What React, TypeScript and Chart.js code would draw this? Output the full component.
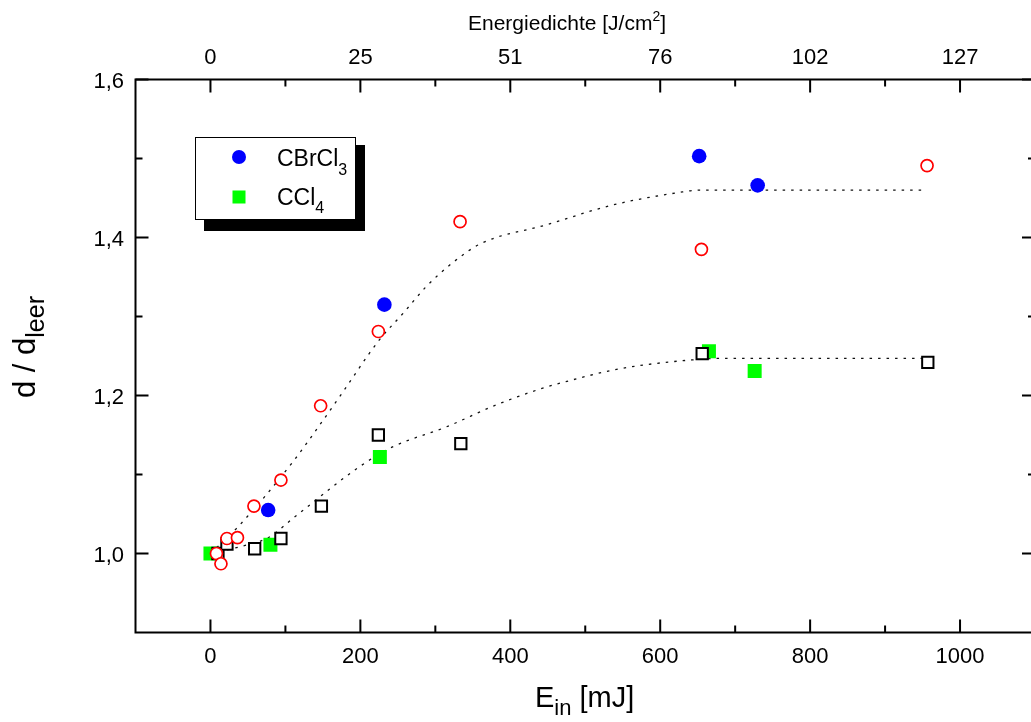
import React, { useEffect, useRef } from 'react';
import { Chart, registerables } from 'chart.js';

Chart.register(...registerables);

// Pulse energy E_in [mJ] against normalised depth d / d_leer
const CBRCL3_E = [77, 232, 652, 730];
const CBRCL3_D = [1.055, 1.315, 1.503, 1.466];

const CCL4_E = [0, 80, 226, 665, 726];
const CCL4_D = [1.0, 1.011, 1.122, 1.256, 1.231];

const OPEN_CIRCLE_E = [8, 14, 22, 36, 58, 94, 147, 224, 333, 655, 956];
const OPEN_CIRCLE_D = [1.0, 0.987, 1.019, 1.02, 1.06, 1.093, 1.187, 1.281, 1.42, 1.385, 1.491];

const OPEN_SQUARE_E = [10, 22, 59, 94, 148, 224, 334, 656, 957];
const OPEN_SQUARE_D = [1.0, 1.012, 1.006, 1.019, 1.06, 1.15, 1.139, 1.253, 1.242];

// Saturation fits (dotted guides)
const FIT_UPPER_E = [0, 37, 110, 146, 172, 225, 257, 288, 323, 360, 448, 536, 625, 652, 758, 953];
const FIT_UPPER_D = [1.0, 1.034, 1.116, 1.163, 1.198, 1.27, 1.304, 1.338, 1.368, 1.392, 1.416, 1.441, 1.457, 1.46, 1.46, 1.46];
const FIT_LOWER_E = [0, 41, 77, 112, 199, 243, 314, 381, 439, 492, 536, 581, 642, 678, 758, 953];
const FIT_LOWER_D = [1.0, 1.009, 1.02, 1.046, 1.11, 1.135, 1.16, 1.188, 1.208, 1.222, 1.232, 1.239, 1.245, 1.247, 1.247, 1.247];

// Axes
const X_MIN = -100;
const X_MAX = 1100;
const Y_MIN = 0.9;
const Y_MAX = 1.6;
const X_MAJOR = [0, 200, 400, 600, 800, 1000];
const X_MINOR = [100, 300, 500, 700, 900];
const Y_MAJOR = [1.0, 1.2, 1.4, 1.6];
const Y_MINOR = [1.1, 1.3, 1.5];
const X_LABELS = ['0', '200', '400', '600', '800', '1000'];
const TOP_LABELS = ['0', '25', '51', '76', '102', '127'];
const Y_LABELS = ['1,0', '1,2', '1,4', '1,6'];

const FONT = "'Liberation Sans', Arial, sans-serif";

const pts = (xs: number[], ys: number[]) => xs.map((x, i) => ({ x, y: ys[i] }));

type Part = { text: string; size: number; dy?: number };

function drawParts(ctx: CanvasRenderingContext2D, parts: Part[], x: number, y: number) {
  let cx = x;
  for (const p of parts) {
    ctx.font = `${p.size}px ${FONT}`;
    ctx.fillText(p.text, cx, y + (p.dy || 0));
    cx += ctx.measureText(p.text).width;
  }
}

const decorPlugin = {
  id: 'decor',
  afterDraw(chart: any) {
    const { ctx, chartArea } = chart;
    const xs = chart.scales.x;
    const ys = chart.scales.y;
    const { left, right, top, bottom } = chartArea;
    ctx.save();
    ctx.strokeStyle = '#000';
    ctx.fillStyle = '#000';
    ctx.lineWidth = 2;
    ctx.lineCap = 'butt';

    // frame
    ctx.strokeRect(left, top, right - left, bottom - top);

    // inward ticks on all four sides
    const MAJ = 13;
    const MIN = 7;
    ctx.beginPath();
    const xt = (v: number, len: number) => {
      const px = xs.getPixelForValue(v);
      ctx.moveTo(px, bottom);
      ctx.lineTo(px, bottom - len);
      ctx.moveTo(px, top);
      ctx.lineTo(px, top + len);
    };
    const yt = (v: number, len: number) => {
      const py = ys.getPixelForValue(v);
      ctx.moveTo(left, py);
      ctx.lineTo(left + len, py);
      ctx.moveTo(right, py);
      ctx.lineTo(right - len, py);
    };
    X_MAJOR.forEach((v) => xt(v, MAJ));
    X_MINOR.forEach((v) => xt(v, MIN));
    Y_MAJOR.forEach((v) => yt(v, MAJ));
    Y_MINOR.forEach((v) => yt(v, MIN));
    ctx.stroke();

    // axis titles
    ctx.textAlign = 'left';
    ctx.textBaseline = 'alphabetic';
    drawParts(ctx, [
      { text: 'E', size: 29 },
      { text: 'in', size: 22, dy: 8 },
      { text: ' [mJ]', size: 29 },
    ], 535, 707);

    drawParts(ctx, [
      { text: 'Energiedichte [J/cm', size: 21 },
      { text: '2', size: 14, dy: -9 },
      { text: ']', size: 21 },
    ], 468, 30);

    ctx.save();
    ctx.translate(35, 398);
    ctx.rotate(-Math.PI / 2);
    drawParts(ctx, [
      { text: 'd / d', size: 31 },
      { text: 'leer', size: 25, dy: 9 },
    ], 0, 0);
    ctx.restore();

    // legend box with drop shadow
    ctx.fillStyle = '#000';
    ctx.fillRect(204, 145, 161, 86);
    ctx.fillStyle = '#fff';
    ctx.fillRect(195, 137, 161, 83);
    ctx.lineWidth = 1;
    ctx.strokeStyle = '#000';
    ctx.strokeRect(195.5, 137.5, 160, 82);

    ctx.fillStyle = '#0000ff';
    ctx.beginPath();
    ctx.arc(239, 157, 7, 0, Math.PI * 2);
    ctx.fill();
    ctx.fillStyle = '#00ff00';
    ctx.fillRect(232.5, 190.5, 13, 13);

    ctx.fillStyle = '#000';
    drawParts(ctx, [
      { text: 'CBrCl', size: 23 },
      { text: '3', size: 16, dy: 9 },
    ], 277, 166);
    drawParts(ctx, [
      { text: 'CCl', size: 23 },
      { text: '4', size: 16, dy: 8 },
    ], 277, 205);

    ctx.restore();
  },
};

export default function App() {
  const ref = useRef<HTMLCanvasElement | null>(null);

  useEffect(() => {
    if (!ref.current) return;
    const tickFont = { family: FONT, size: 22, lineHeight: 1 };
    const hidden = { display: false, drawTicks: false };

    const chart = new Chart(ref.current, {
      type: 'scatter',
      data: {
        datasets: [
          {
            label: 'open circles',
            data: pts(OPEN_CIRCLE_E, OPEN_CIRCLE_D),
            pointStyle: 'circle',
            pointRadius: 6,
            backgroundColor: '#ffffff',
            borderColor: '#ff0000',
            borderWidth: 1.7,
          },
          {
            label: 'open squares',
            data: pts(OPEN_SQUARE_E, OPEN_SQUARE_D),
            pointStyle: 'rect',
            pointRadius: 8,
            backgroundColor: '#ffffff',
            borderColor: '#000000',
            borderWidth: 2,
          },
          {
            label: 'CBrCl3',
            data: pts(CBRCL3_E, CBRCL3_D),
            pointStyle: 'circle',
            pointRadius: 7.3,
            backgroundColor: '#0000ff',
            borderColor: '#0000ff',
            borderWidth: 0,
          },
          {
            label: 'CCl4',
            data: pts(CCL4_E, CCL4_D),
            pointStyle: 'rect',
            pointRadius: 9.9,
            backgroundColor: '#00ff00',
            borderColor: '#00ff00',
            borderWidth: 0,
          },
          {
            label: 'fit CBrCl3',
            data: pts(FIT_UPPER_E, FIT_UPPER_D),
            showLine: true,
            pointRadius: 0,
            borderColor: '#111',
            borderWidth: 1.3,
            borderDash: [2.5, 6],
            cubicInterpolationMode: 'monotone',
            fill: false,
          },
          {
            label: 'fit CCl4',
            data: pts(FIT_LOWER_E, FIT_LOWER_D),
            showLine: true,
            pointRadius: 0,
            borderColor: '#111',
            borderWidth: 1.3,
            borderDash: [2.5, 6],
            cubicInterpolationMode: 'monotone',
            fill: false,
          },
        ],
      },
      options: {
        animation: false,
        responsive: false,
        devicePixelRatio: 1,
        layout: { padding: 0 },
        plugins: { legend: { display: false }, tooltip: { enabled: false } },
        scales: {
          x: {
            type: 'linear',
            position: 'bottom',
            min: X_MIN,
            max: X_MAX,
            afterBuildTicks: (s: any) => { s.ticks = X_MAJOR.map((value) => ({ value })); },
            afterFit: (s: any) => { s.height = 89.5; },
            grid: hidden,
            border: { display: false },
            ticks: {
              font: tickFont, color: '#000', padding: 13.5, maxRotation: 0, autoSkip: false,
              callback: (_v: any, i: number) => X_LABELS[i],
            },
          },
          x2: {
            type: 'linear',
            position: 'top',
            min: X_MIN,
            max: X_MAX,
            afterBuildTicks: (s: any) => { s.ticks = X_MAJOR.map((value) => ({ value })); },
            afterFit: (s: any) => { s.height = 79.5; },
            grid: hidden,
            border: { display: false },
            ticks: {
              font: tickFont, color: '#000', padding: 11, maxRotation: 0, autoSkip: false,
              callback: (_v: any, i: number) => TOP_LABELS[i],
            },
          },
          y: {
            type: 'linear',
            position: 'left',
            min: Y_MIN,
            max: Y_MAX,
            afterBuildTicks: (s: any) => { s.ticks = Y_MAJOR.map((value) => ({ value })); },
            afterFit: (s: any) => { s.width = 135.5; },
            grid: hidden,
            border: { display: false },
            ticks: {
              font: tickFont, color: '#000', padding: 11.5, autoSkip: false, labelOffset: 2,
              callback: (_v: any, i: number) => Y_LABELS[i],
            },
          },
          y2: {
            type: 'linear',
            position: 'right',
            min: Y_MIN,
            max: Y_MAX,
            afterFit: (s: any) => { s.width = 8; },
            grid: hidden,
            border: { display: false },
            ticks: { display: false },
          },
        },
      },
      plugins: [decorPlugin],
    } as any);

    return () => chart.destroy();
  }, []);

  return (
    <div
      style={{
        position: 'fixed',
        left: 0,
        top: 0,
        width: 1031,
        height: 722,
        overflow: 'hidden',
        background: '#ffffff',
      }}
    >
      <canvas ref={ref} width={1045} height={722} style={{ display: 'block', width: 1045, height: 722 }} />
    </div>
  );
}
